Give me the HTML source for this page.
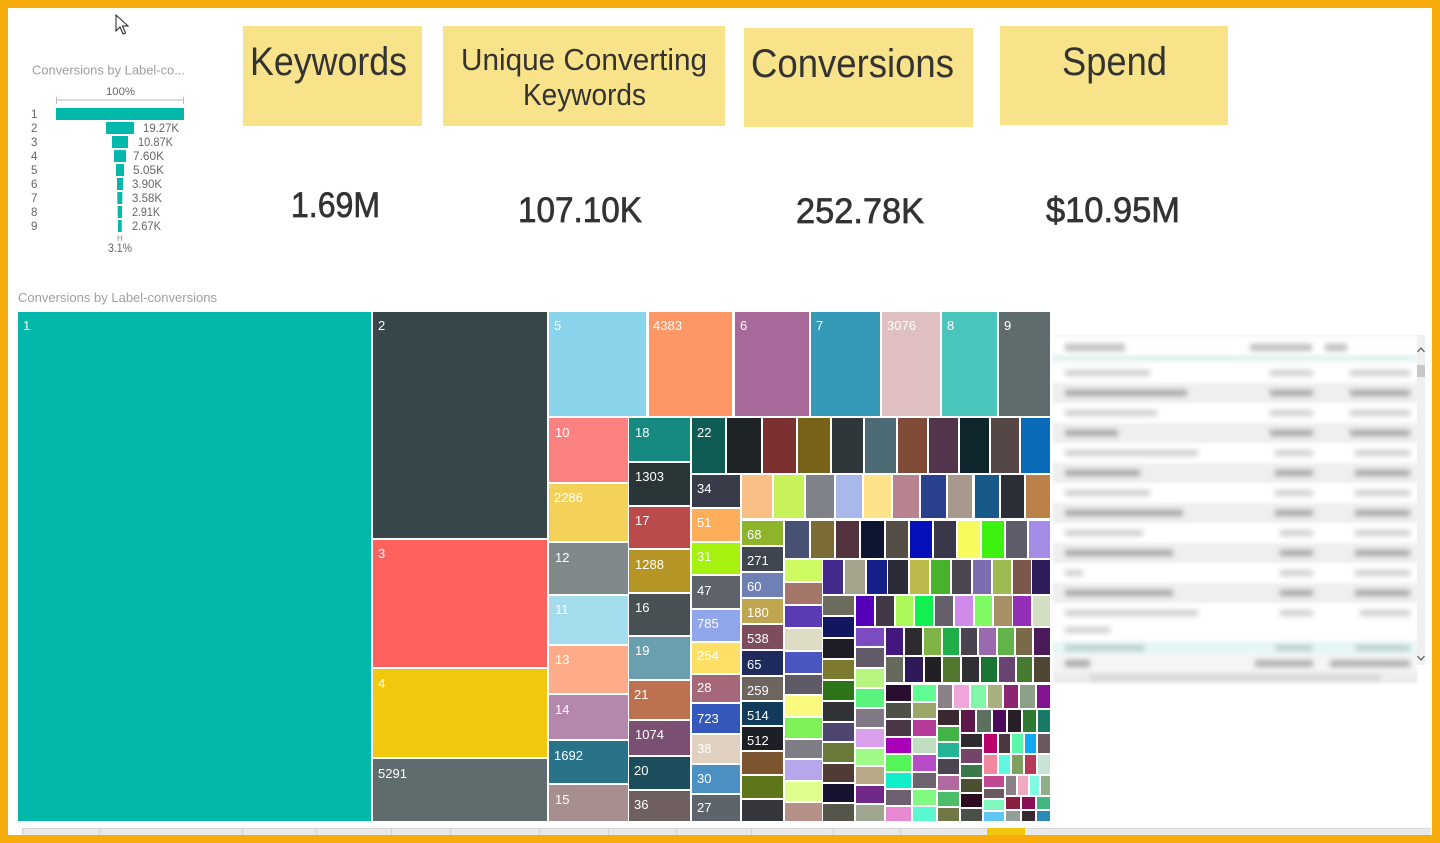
<!DOCTYPE html>
<html><head><meta charset="utf-8"><style>
html,body{margin:0;padding:0;background:#F8AC0C;}
svg{display:block;}
</style></head><body>
<svg width="1440" height="843" viewBox="0 0 1440 843" xmlns="http://www.w3.org/2000/svg" font-family="'Liberation Sans', sans-serif">
<defs>
<filter id="bl" x="-10%" y="-80%" width="120%" height="260%"><feGaussianBlur stdDeviation="2.6"/></filter>
<filter id="bl2" x="-10%" y="-60%" width="120%" height="220%"><feGaussianBlur stdDeviation="1.2"/></filter>
<filter id="bl3" x="-2%" y="-2%" width="104%" height="104%"><feGaussianBlur stdDeviation="1.5"/></filter>
</defs>
<rect x="0" y="0" width="1440" height="843" fill="#F8AC0C"/>
<rect x="8" y="8" width="1424" height="827" fill="#FFFFFF"/>

<!-- cursor -->
<polygon points="116,15 116,31 120,27 123,34 125.5,33 122.5,26 128,26" fill="#fff" stroke="#222" stroke-width="1"/>

<!-- funnel -->
<text x="32" y="74.5" font-size="12.5" fill="#9E9E9E" textLength="153" lengthAdjust="spacingAndGlyphs">Conversions by Label-co...</text>
<text x="106" y="95" font-size="11" fill="#666" textLength="29" lengthAdjust="spacingAndGlyphs">100%</text>
<line x1="56" y1="100" x2="184" y2="100" stroke="#BDBDBD" stroke-width="1"/>
<line x1="56.5" y1="97" x2="56.5" y2="104" stroke="#BDBDBD"/>
<line x1="183.5" y1="97" x2="183.5" y2="104" stroke="#BDBDBD"/>
<g fill="#01B8AA">
<rect x="56" y="108" width="128" height="12"/>
<rect x="106" y="122" width="28" height="12"/>
<rect x="112" y="136" width="16" height="12"/>
<rect x="114" y="150" width="12" height="12"/>
<rect x="116" y="164" width="8" height="12"/>
<rect x="117" y="178" width="6" height="12"/>
<rect x="117.3" y="192" width="5" height="12"/>
<rect x="117.7" y="206" width="4.3" height="12"/>
<rect x="118" y="220" width="3.7" height="12"/>
</g>
<g font-size="11.5" fill="#666">
<text x="31" y="118">1</text><text x="31" y="132">2</text><text x="31" y="146">3</text><text x="31" y="160">4</text><text x="31" y="174">5</text><text x="31" y="188">6</text><text x="31" y="202">7</text><text x="31" y="216">8</text><text x="31" y="230">9</text>
<text x="143" y="132" textLength="36" lengthAdjust="spacingAndGlyphs">19.27K</text>
<text x="138" y="146" textLength="35" lengthAdjust="spacingAndGlyphs">10.87K</text>
<text x="133" y="160" textLength="31" lengthAdjust="spacingAndGlyphs">7.60K</text>
<text x="133" y="174" textLength="31" lengthAdjust="spacingAndGlyphs">5.05K</text>
<text x="132" y="188" textLength="30" lengthAdjust="spacingAndGlyphs">3.90K</text>
<text x="132" y="202" textLength="30" lengthAdjust="spacingAndGlyphs">3.58K</text>
<text x="132" y="216" textLength="28" lengthAdjust="spacingAndGlyphs">2.91K</text>
<text x="132" y="230" textLength="29" lengthAdjust="spacingAndGlyphs">2.67K</text>
<text x="108" y="252" textLength="24" lengthAdjust="spacingAndGlyphs">3.1%</text>
</g>
<text x="117" y="241" font-size="8" fill="#888">H</text>

<!-- cards -->
<g fill="#F8E38A">
<rect x="243" y="26" width="179" height="100"/>
<rect x="443" y="26" width="282" height="100"/>
<rect x="744" y="28" width="229" height="99"/>
<rect x="1000" y="26" width="228" height="99"/>
</g>
<g fill="#333">
<text x="250" y="75" font-size="40" textLength="157" lengthAdjust="spacingAndGlyphs">Keywords</text>
<text x="461" y="70" font-size="31" textLength="246" lengthAdjust="spacingAndGlyphs">Unique Converting</text>
<text x="523" y="105" font-size="31" textLength="123" lengthAdjust="spacingAndGlyphs">Keywords</text>
<text x="751" y="77" font-size="40" textLength="203" lengthAdjust="spacingAndGlyphs">Conversions</text>
<text x="1062" y="75" font-size="40" textLength="105" lengthAdjust="spacingAndGlyphs">Spend</text>
</g>
<g fill="#333" stroke="#333" stroke-width="0.7">
<text x="291" y="217" font-size="35" textLength="89" lengthAdjust="spacingAndGlyphs">1.69M</text>
<text x="518" y="222" font-size="35" textLength="124" lengthAdjust="spacingAndGlyphs">107.10K</text>
<text x="796" y="223" font-size="35" textLength="128" lengthAdjust="spacingAndGlyphs">252.78K</text>
<text x="1046" y="222" font-size="35" textLength="134" lengthAdjust="spacingAndGlyphs">$10.95M</text>
</g>

<!-- treemap title -->
<text x="18" y="302" font-size="13" fill="#A0A0A0" textLength="199" lengthAdjust="spacingAndGlyphs">Conversions by Label-conversions</text>

<!-- treemap big -->
<rect x="18" y="312" width="353" height="509" fill="#01B8AA"/>
<rect x="373" y="312" width="174" height="226" fill="#374649"/>
<rect x="373" y="540" width="174" height="127" fill="#FD625E"/>
<rect x="373" y="669" width="174" height="88" fill="#F2C80F"/>
<rect x="373" y="759" width="174" height="62" fill="#5F6B6D"/>
<!-- top row -->
<rect x="549" y="312" width="97" height="104" fill="#8AD4EB"/>
<rect x="649" y="312" width="83" height="104" fill="#FE9666"/>
<rect x="735" y="312" width="74" height="104" fill="#A66999"/>
<rect x="811" y="312" width="69" height="104" fill="#3599B8"/>
<rect x="882" y="312" width="58" height="104" fill="#DFBFBF"/>
<rect x="942" y="312" width="55" height="104" fill="#4AC5BB"/>
<rect x="999" y="312" width="51" height="104" fill="#5F6B6D"/>
<!-- col A -->
<rect x="549" y="418" width="79" height="64" fill="#FB8281"/>
<rect x="549" y="484" width="79" height="57" fill="#F4D25A"/>
<rect x="549" y="543" width="79" height="51" fill="#7F898A"/>
<rect x="549" y="596" width="79" height="48" fill="#A4DDEE"/>
<rect x="549" y="646" width="79" height="47" fill="#FDAB89"/>
<rect x="549" y="695" width="79" height="44" fill="#B687AC"/>
<rect x="549" y="741" width="79" height="42" fill="#28738A"/>
<rect x="549" y="785" width="79" height="36" fill="#A78F8F"/>
<!-- col B -->
<rect x="629" y="418" width="61" height="43" fill="#168980"/>
<rect x="629" y="463" width="61" height="42" fill="#293537"/>
<rect x="629" y="507" width="61" height="41" fill="#BB4A4A"/>
<rect x="629" y="550" width="61" height="42" fill="#B59525"/>
<rect x="629" y="594" width="61" height="41" fill="#475052"/>
<rect x="629" y="637" width="61" height="42" fill="#6A9FB0"/>
<rect x="629" y="681" width="61" height="38" fill="#BD7150"/>
<rect x="629" y="721" width="61" height="34" fill="#7B4F71"/>
<rect x="629" y="757" width="61" height="32" fill="#1B4D5C"/>
<rect x="629" y="791" width="61" height="30" fill="#6F5F5F"/>
<!-- col C -->
<rect x="692" y="418" width="33" height="55" fill="#0F5C55"/>
<rect x="692" y="475" width="48" height="32" fill="#373C48"/>
<rect x="692" y="509" width="48" height="32" fill="#FCAE5B"/>
<rect x="692" y="543" width="48" height="31" fill="#A6F20F"/>
<rect x="692" y="576" width="48" height="32" fill="#5E636B"/>
<rect x="692" y="610" width="48" height="31" fill="#8FA6EB"/>
<rect x="692" y="643" width="48" height="30" fill="#FDE065"/>
<rect x="692" y="675" width="48" height="27" fill="#A56878"/>
<rect x="692" y="704" width="48" height="29" fill="#3457BC"/>
<rect x="692" y="735" width="48" height="28" fill="#DFD0C0"/>
<rect x="692" y="765" width="48" height="28" fill="#4A90C2"/>
<rect x="692" y="795" width="48" height="26" fill="#5E646B"/>
<!-- row 2 -->
<g>
<rect x="727" y="418" width="34" height="55" fill="#1E2426"/>
<rect x="763" y="418" width="33" height="55" fill="#7C3030"/>
<rect x="798" y="418" width="32" height="55" fill="#78621A"/>
<rect x="832" y="418" width="31" height="55" fill="#30373A"/>
<rect x="865" y="418" width="31" height="55" fill="#4B6A74"/>
<rect x="898" y="418" width="29" height="55" fill="#7E4B36"/>
<rect x="929" y="418" width="29" height="55" fill="#53344D"/>
<rect x="960" y="418" width="29" height="55" fill="#10262D"/>
<rect x="991" y="418" width="28" height="55" fill="#554746"/>
<rect x="1021" y="418" width="29" height="55" fill="#0A6ABA"/>
</g>
<!-- row 3 -->
<g>
<rect x="742" y="475" width="30" height="43" fill="#FABF85"/>
<rect x="774" y="475" width="30" height="43" fill="#C8F25A"/>
<rect x="806" y="475" width="28" height="43" fill="#7F8288"/>
<rect x="836" y="475" width="26" height="43" fill="#A8B8EB"/>
<rect x="864" y="475" width="27" height="43" fill="#FDE28A"/>
<rect x="893" y="475" width="26" height="43" fill="#B78391"/>
<rect x="921" y="475" width="25" height="43" fill="#29418C"/>
<rect x="948" y="475" width="24" height="43" fill="#A79A8D"/>
<rect x="975" y="475" width="24" height="43" fill="#175A8A"/>
<rect x="1001" y="475" width="23" height="43" fill="#2A2E37"/>
<rect x="1026" y="475" width="24" height="43" fill="#BC8148"/>
</g>
<!-- col D -->
<g>
<rect x="742" y="521" width="41" height="24" fill="#8DB42A"/>
<rect x="742" y="547" width="41" height="24" fill="#404650"/>
<rect x="742" y="573" width="41" height="24" fill="#6F80B4"/>
<rect x="742" y="599" width="41" height="24" fill="#BFA550"/>
<rect x="742" y="625" width="41" height="24" fill="#7D4D5E"/>
<rect x="742" y="651" width="41" height="24" fill="#1E2B5C"/>
<rect x="742" y="677" width="41" height="23" fill="#6E6561"/>
<rect x="742" y="702" width="41" height="23" fill="#113A5B"/>
<rect x="742" y="727" width="41" height="23" fill="#1C1F26"/>
<rect x="742" y="752" width="41" height="22" fill="#7D5430"/>
<rect x="742" y="776" width="41" height="22" fill="#5E7619"/>
<rect x="742" y="800" width="41" height="21" fill="#34363C"/>
</g>
<!-- row 4 -->
<g>
<rect x="785" y="521" width="24" height="37" fill="#475173"/>
<rect x="811" y="521" width="23" height="37" fill="#7C6B35"/>
<rect x="836" y="521" width="23" height="37" fill="#53343E"/>
<rect x="861" y="521" width="23" height="37" fill="#0D1530"/>
<rect x="886" y="521" width="22" height="37" fill="#554E47"/>
<rect x="910" y="521" width="22" height="37" fill="#0510BA"/>
<rect x="934" y="521" width="22" height="37" fill="#3A374A"/>
<rect x="958" y="521" width="22" height="37" fill="#F7FB5E"/>
<rect x="982" y="521" width="22" height="37" fill="#3EF210"/>
<rect x="1006" y="521" width="21" height="37" fill="#5F5C6B"/>
<rect x="1029" y="521" width="21" height="37" fill="#A48BE6"/>
</g>
<!-- col E -->
<g>
<rect x="785" y="560" width="37" height="21" fill="#CFFB62"/>
<rect x="785" y="583" width="37" height="21" fill="#A4766A"/>
<rect x="785" y="606" width="37" height="21" fill="#5B3BB5"/>
<rect x="785" y="629" width="37" height="21" fill="#DEDCC4"/>
<rect x="785" y="652" width="37" height="21" fill="#4A56C2"/>
<rect x="785" y="675" width="37" height="19" fill="#5E5B67"/>
<rect x="785" y="696" width="37" height="20" fill="#FAFA80"/>
<rect x="785" y="718" width="37" height="20" fill="#7EF058"/>
<rect x="785" y="740" width="37" height="18" fill="#7E7D86"/>
<rect x="785" y="760" width="37" height="20" fill="#B6A7EA"/>
<rect x="785" y="782" width="37" height="19" fill="#DDFE8C"/>
<rect x="785" y="803" width="37" height="18" fill="#B49087"/>
</g>
<!-- row 5 -->
<g>
<rect x="823" y="560" width="20" height="34" fill="#42298A"/>
<rect x="845" y="560" width="20" height="34" fill="#A4A38C"/>
<rect x="867" y="560" width="20" height="34" fill="#16208A"/>
<rect x="888" y="560" width="20" height="34" fill="#2C2B38"/>
<rect x="910" y="560" width="19" height="34" fill="#BBBA4A"/>
<rect x="931" y="560" width="19" height="34" fill="#47B22A"/>
<rect x="952" y="560" width="19" height="34" fill="#4A4650"/>
<rect x="973" y="560" width="18" height="34" fill="#7E6CB0"/>
<rect x="993" y="560" width="18" height="34" fill="#9CBB50"/>
<rect x="1013" y="560" width="18" height="34" fill="#7B574C"/>
<rect x="1032" y="560" width="18" height="34" fill="#2C1C58"/>
</g>
<!-- col F -->
<g>
<rect x="823" y="596" width="31" height="19" fill="#6B6C5C"/>
<rect x="823" y="617" width="31" height="20" fill="#121660"/>
<rect x="823" y="639" width="31" height="19" fill="#1E1C24"/>
<rect x="823" y="660" width="31" height="19" fill="#7B7A2E"/>
<rect x="823" y="681" width="31" height="19" fill="#2C7417"/>
<rect x="823" y="702" width="31" height="19" fill="#303236"/>
<rect x="823" y="723" width="31" height="18" fill="#4E4670"/>
<rect x="823" y="743" width="31" height="19" fill="#6A7A38"/>
<rect x="823" y="764" width="31" height="18" fill="#503C34"/>
<rect x="823" y="784" width="31" height="18" fill="#16112E"/>
<rect x="823" y="804" width="31" height="17" fill="#55554B"/>
</g>
<!-- row 6 -->
<g>
<rect x="856" y="596" width="18" height="30" fill="#5300B8"/>
<rect x="876" y="596" width="18" height="30" fill="#433848"/>
<rect x="896" y="596" width="17" height="30" fill="#AAF85A"/>
<rect x="915" y="596" width="18" height="30" fill="#10F050"/>
<rect x="935" y="596" width="18" height="30" fill="#655E6B"/>
<rect x="955" y="596" width="18" height="30" fill="#D08BEA"/>
<rect x="975" y="596" width="17" height="30" fill="#80FA64"/>
<rect x="994" y="596" width="18" height="30" fill="#A89066"/>
<rect x="1013" y="596" width="18" height="30" fill="#9430B8"/>
<rect x="1033" y="596" width="17" height="30" fill="#D3DEC2"/>
</g>
<!-- col G -->
<g>
<rect x="856" y="628" width="28" height="18" fill="#7E4CC2"/>
<rect x="856" y="648" width="28" height="19" fill="#635A6B"/>
<rect x="856" y="669" width="28" height="18" fill="#B8F580"/>
<rect x="856" y="689" width="28" height="18" fill="#5AF37E"/>
<rect x="856" y="709" width="28" height="18" fill="#807885"/>
<rect x="856" y="729" width="28" height="18" fill="#D8A0EA"/>
<rect x="856" y="749" width="28" height="16" fill="#A0FA86"/>
<rect x="856" y="767" width="28" height="17" fill="#B8A888"/>
<rect x="856" y="786" width="28" height="17" fill="#712987"/>
<rect x="856" y="805" width="28" height="16" fill="#9EA690"/>
</g>
<!-- row 7 -->
<g>
<rect x="886" y="628" width="17" height="27" fill="#43177E"/>
<rect x="905" y="628" width="17" height="27" fill="#2E2B30"/>
<rect x="924" y="628" width="17" height="27" fill="#7FB346"/>
<rect x="943" y="628" width="16" height="27" fill="#21AE4A"/>
<rect x="961" y="628" width="16" height="27" fill="#4A4350"/>
<rect x="979" y="628" width="17" height="27" fill="#9B6AAE"/>
<rect x="998" y="628" width="16" height="27" fill="#62B44A"/>
<rect x="1016" y="628" width="16" height="27" fill="#7A6A48"/>
<rect x="1034" y="628" width="16" height="27" fill="#4A1A5A"/>
</g>
<!-- row 8 -->
<g>
<rect x="886" y="657" width="17" height="25" fill="#656A5A"/>
<rect x="905" y="657" width="18" height="25" fill="#2E1A58"/>
<rect x="925" y="657" width="16" height="25" fill="#222024"/>
<rect x="943" y="657" width="17" height="25" fill="#527830"/>
<rect x="962" y="657" width="17" height="25" fill="#303034"/>
<rect x="981" y="657" width="16" height="25" fill="#1A7534"/>
<rect x="999" y="657" width="16" height="25" fill="#6A4470"/>
<rect x="1017" y="657" width="15" height="25" fill="#457A30"/>
<rect x="1034" y="657" width="16" height="25" fill="#4F4733"/>
</g>
<!-- col H -->
<g>
<rect x="886" y="685" width="25" height="16" fill="#2A0E30"/>
<rect x="886" y="703" width="25" height="15" fill="#4E5246"/>
<rect x="886" y="720" width="25" height="16" fill="#4A3848"/>
<rect x="886" y="738" width="25" height="15" fill="#A800B8"/>
<rect x="886" y="755" width="25" height="16" fill="#55F558"/>
<rect x="886" y="773" width="25" height="15" fill="#10F0C8"/>
<rect x="886" y="790" width="25" height="15" fill="#6E6070"/>
<rect x="886" y="807" width="25" height="14" fill="#E888D0"/>
</g>
<!-- col I -->
<g>
<rect x="913" y="685" width="23" height="16" fill="#60FC94"/>
<rect x="913" y="703" width="23" height="15" fill="#9BA66A"/>
<rect x="913" y="720" width="23" height="16" fill="#B73B98"/>
<rect x="913" y="738" width="23" height="15" fill="#C2DEC0"/>
<rect x="913" y="755" width="23" height="16" fill="#B84CC8"/>
<rect x="913" y="773" width="23" height="15" fill="#6E6470"/>
<rect x="913" y="790" width="23" height="15" fill="#80FA80"/>
<rect x="913" y="807" width="23" height="14" fill="#5AF8D0"/>
</g>
<!-- row 9 -->
<g>
<rect x="938" y="685" width="14" height="23" fill="#8C8088"/>
<rect x="954" y="685" width="15" height="23" fill="#F0A4DC"/>
<rect x="971" y="685" width="15" height="23" fill="#80F8A8"/>
<rect x="988" y="685" width="14" height="23" fill="#A8B080"/>
<rect x="1004" y="685" width="14" height="23" fill="#8C2670"/>
<rect x="1020" y="685" width="15" height="23" fill="#8CA088"/>
<rect x="1037" y="685" width="13" height="23" fill="#821690"/>
</g>
<!-- col J -->
<g>
<rect x="938" y="710" width="21" height="15" fill="#3A2830"/>
<rect x="938" y="727" width="21" height="14" fill="#44B448"/>
<rect x="938" y="743" width="21" height="14" fill="#26B496"/>
<rect x="938" y="759" width="21" height="15" fill="#4C4450"/>
<rect x="938" y="776" width="21" height="14" fill="#B06AA0"/>
<rect x="938" y="792" width="21" height="14" fill="#4CBE6A"/>
<rect x="938" y="808" width="21" height="13" fill="#707848"/>
</g>
<!-- row 10 -->
<g>
<rect x="961" y="710" width="14" height="22" fill="#5C1848"/>
<rect x="977" y="710" width="14" height="22" fill="#5C7060"/>
<rect x="993" y="710" width="13" height="22" fill="#4C0A5A"/>
<rect x="1008" y="710" width="13" height="22" fill="#262026"/>
<rect x="1023" y="710" width="13" height="22" fill="#2E7A30"/>
<rect x="1038" y="710" width="12" height="22" fill="#1A7866"/>
</g>
<!-- col K -->
<g>
<rect x="961" y="734" width="21" height="13" fill="#2E2A30"/>
<rect x="961" y="749" width="21" height="14" fill="#764468"/>
<rect x="961" y="765" width="21" height="12" fill="#3A7A4A"/>
<rect x="961" y="779" width="21" height="13" fill="#4A5030"/>
<rect x="961" y="794" width="21" height="13" fill="#2E0A20"/>
<rect x="961" y="809" width="21" height="12" fill="#4A5048"/>
</g>
<!-- rows 11, 12 -->
<g>
<rect x="984" y="734" width="13" height="19" fill="#B8006A"/>
<rect x="999" y="734" width="11" height="19" fill="#4A3840"/>
<rect x="1012" y="734" width="11" height="19" fill="#5AF8A8"/>
<rect x="1025" y="734" width="11" height="19" fill="#10A8F0"/>
<rect x="1038" y="734" width="12" height="19" fill="#6A5A60"/>
<rect x="984" y="755" width="13" height="19" fill="#F088A0"/>
<rect x="999" y="755" width="11" height="19" fill="#60F8E0"/>
<rect x="1012" y="755" width="11" height="19" fill="#80A060"/>
<rect x="1025" y="755" width="11" height="19" fill="#B83858"/>
<rect x="1038" y="755" width="12" height="19" fill="#C8E4D4"/>
</g>
<!-- col L and rest -->
<g>
<rect x="984" y="776" width="20" height="11" fill="#C04890"/>
<rect x="984" y="789" width="20" height="9" fill="#6A5A60"/>
<rect x="984" y="800" width="20" height="10" fill="#80F8C0"/>
<rect x="984" y="812" width="20" height="9" fill="#60C8F0"/>
<rect x="1006" y="776" width="10" height="19" fill="#8C8088"/>
<rect x="1018" y="776" width="10" height="19" fill="#F0A8C0"/>
<rect x="1030" y="776" width="9" height="19" fill="#80FAE0"/>
<rect x="1041" y="776" width="9" height="19" fill="#90B088"/>
<rect x="1006" y="797" width="14" height="12" fill="#8A2040"/>
<rect x="1022" y="797" width="13" height="12" fill="#8A1058"/>
<rect x="1037" y="797" width="13" height="12" fill="#40B880"/>
<rect x="1006" y="811" width="14" height="10" fill="#90A098"/>
<rect x="1022" y="811" width="13" height="10" fill="#3A2830"/>
<rect x="1037" y="811" width="13" height="10" fill="#2A8AB8"/>
</g>

<!-- treemap labels -->
<g font-size="13" fill="#FFFFFF">
<text x="23" y="330">1</text>
<text x="378" y="330">2</text>
<text x="378" y="558">3</text>
<text x="378" y="688">4</text>
<text x="378" y="778">5291</text>
<text x="554" y="330">5</text>
<text x="653" y="330">4383</text>
<text x="740" y="330">6</text>
<text x="816" y="330">7</text>
<text x="887" y="330">3076</text>
<text x="947" y="330">8</text>
<text x="1004" y="330">9</text>
<text x="555" y="437">10</text>
<text x="554" y="502">2286</text>
<text x="555" y="562">12</text>
<text x="555" y="614">11</text>
<text x="555" y="664">13</text>
<text x="555" y="714">14</text>
<text x="554" y="760">1692</text>
<text x="555" y="804">15</text>
<text x="635" y="437">18</text>
<text x="635" y="481">1303</text>
<text x="635" y="525">17</text>
<text x="635" y="569">1288</text>
<text x="635" y="612">16</text>
<text x="635" y="655">19</text>
<text x="634" y="699">21</text>
<text x="635" y="739">1074</text>
<text x="634" y="775">20</text>
<text x="634" y="809">36</text>
<text x="697" y="437">22</text>
<text x="697" y="493">34</text>
<text x="697" y="527">51</text>
<text x="697" y="561">31</text>
<text x="697" y="595">47</text>
<text x="697" y="628">785</text>
<text x="697" y="660">254</text>
<text x="697" y="692">28</text>
<text x="697" y="723">723</text>
<text x="697" y="753">38</text>
<text x="697" y="783">30</text>
<text x="697" y="812">27</text>
<text x="747" y="539">68</text>
<text x="747" y="565">271</text>
<text x="747" y="591">60</text>
<text x="747" y="617">180</text>
<text x="747" y="643">538</text>
<text x="747" y="669">65</text>
<text x="747" y="695">259</text>
<text x="747" y="720">514</text>
<text x="747" y="745">512</text>
</g>

<!-- table (blurred) -->
<rect x="1053" y="335" width="364" height="348" fill="#F7F7F7"/>
<g filter="url(#bl3)">
<rect x="1053" y="337" width="364" height="20" fill="#FFFFFF"/>
<rect x="1053" y="355" width="364" height="6" fill="#E3F4F3"/>
<rect x="1053" y="363" width="364" height="20" fill="#FFFFFF"/>
<rect x="1053" y="383" width="364" height="20" fill="#EFEFEF"/>
<rect x="1053" y="403" width="364" height="20" fill="#FFFFFF"/>
<rect x="1053" y="423" width="364" height="20" fill="#EFEFEF"/>
<rect x="1053" y="443" width="364" height="20" fill="#FFFFFF"/>
<rect x="1053" y="463" width="364" height="20" fill="#EFEFEF"/>
<rect x="1053" y="483" width="364" height="20" fill="#FFFFFF"/>
<rect x="1053" y="503" width="364" height="20" fill="#EFEFEF"/>
<rect x="1053" y="523" width="364" height="20" fill="#FFFFFF"/>
<rect x="1053" y="543" width="364" height="20" fill="#EFEFEF"/>
<rect x="1053" y="563" width="364" height="20" fill="#FFFFFF"/>
<rect x="1053" y="583" width="364" height="20" fill="#EFEFEF"/>
<rect x="1053" y="603" width="364" height="38" fill="#FFFFFF"/>
<rect x="1053" y="641" width="364" height="14" fill="#EAF6F6"/>
<rect x="1053" y="655" width="364" height="17" fill="#F5F5F5"/>
<rect x="1053" y="672" width="364" height="11" fill="#EDEDED"/>
</g>
<g filter="url(#bl)">
<rect x="1065" y="344" width="60" height="7" fill="#BDBDBD"/>
<rect x="1250" y="344" width="62" height="7" fill="#BDBDBD"/>
<rect x="1325" y="344" width="22" height="7" fill="#BDBDBD"/>
<g fill="#CFCFCF">
<rect x="1065" y="370" width="85" height="6"/><rect x="1270" y="370" width="43" height="6"/><rect x="1350" y="370" width="60" height="6"/>
<rect x="1065" y="410" width="92" height="6"/><rect x="1270" y="410" width="43" height="6"/><rect x="1350" y="410" width="60" height="6"/>
<rect x="1065" y="450" width="133" height="6"/><rect x="1275" y="450" width="38" height="6"/><rect x="1355" y="450" width="55" height="6"/>
<rect x="1065" y="490" width="85" height="6"/><rect x="1275" y="490" width="38" height="6"/><rect x="1355" y="490" width="55" height="6"/>
<rect x="1065" y="530" width="78" height="6"/><rect x="1280" y="530" width="33" height="6"/><rect x="1355" y="530" width="55" height="6"/>
<rect x="1065" y="570" width="18" height="6"/><rect x="1280" y="570" width="33" height="6"/><rect x="1355" y="570" width="55" height="6"/>
<rect x="1065" y="610" width="133" height="6"/><rect x="1280" y="610" width="33" height="6"/><rect x="1360" y="610" width="50" height="6"/>
<rect x="1065" y="627" width="45" height="6"/>
</g>
<g fill="#A4A4A4">
<rect x="1065" y="390" width="122" height="6"/><rect x="1270" y="390" width="43" height="6"/><rect x="1350" y="390" width="60" height="6"/>
<rect x="1065" y="430" width="53" height="6"/><rect x="1270" y="430" width="43" height="6"/><rect x="1350" y="430" width="60" height="6"/>
<rect x="1065" y="470" width="75" height="6"/><rect x="1275" y="470" width="38" height="6"/><rect x="1355" y="470" width="55" height="6"/>
<rect x="1065" y="510" width="118" height="6"/><rect x="1275" y="510" width="38" height="6"/><rect x="1355" y="510" width="55" height="6"/>
<rect x="1065" y="550" width="108" height="6"/><rect x="1280" y="550" width="33" height="6"/><rect x="1355" y="550" width="55" height="6"/>
<rect x="1065" y="590" width="108" height="6"/><rect x="1280" y="590" width="33" height="6"/><rect x="1355" y="590" width="55" height="6"/>
</g>
<rect x="1065" y="645" width="80" height="6" fill="#B9CFCF"/><rect x="1275" y="645" width="38" height="6" fill="#B9CFCF"/><rect x="1355" y="645" width="55" height="6" fill="#B9CFCF"/>
<rect x="1065" y="660" width="25" height="7" fill="#A8A8A8"/><rect x="1255" y="660" width="58" height="7" fill="#B0B0B0"/><rect x="1330" y="660" width="80" height="7" fill="#B0B0B0"/>
<rect x="1090" y="675" width="290" height="5" fill="#D0D0D0"/>
</g>
<rect x="1417" y="335" width="8" height="330" fill="#F0F0F0"/>
<rect x="1417" y="365" width="8" height="12" fill="#C8C8C8"/>
<polyline points="1417.5,352 1421,348 1424.5,352" fill="none" stroke="#555" stroke-width="1.2"/>
<polyline points="1417.5,656 1421,660 1424.5,656" fill="none" stroke="#555" stroke-width="1.2"/>

<!-- bottom strip -->
<rect x="22" y="828" width="1409" height="7" fill="#E9E9E9"/>
<line x1="22" y1="828.5" x2="1431" y2="828.5" stroke="#DADADA"/>
<g stroke="#CFCFCF" stroke-width="1">
<line x1="22.5" y1="828" x2="22.5" y2="835"/><line x1="99.5" y1="828" x2="99.5" y2="835"/><line x1="242.5" y1="828" x2="242.5" y2="835"/><line x1="316.5" y1="828" x2="316.5" y2="835"/><line x1="391.5" y1="828" x2="391.5" y2="835"/><line x1="450.5" y1="828" x2="450.5" y2="835"/><line x1="539.5" y1="828" x2="539.5" y2="835"/><line x1="608.5" y1="828" x2="608.5" y2="835"/><line x1="676.5" y1="828" x2="676.5" y2="835"/><line x1="751.5" y1="828" x2="751.5" y2="835"/><line x1="833.5" y1="828" x2="833.5" y2="835"/><line x1="900.5" y1="828" x2="900.5" y2="835"/>
</g>
<rect x="987" y="828" width="38" height="7" fill="#F2C80F"/>
</svg>
</body></html>
